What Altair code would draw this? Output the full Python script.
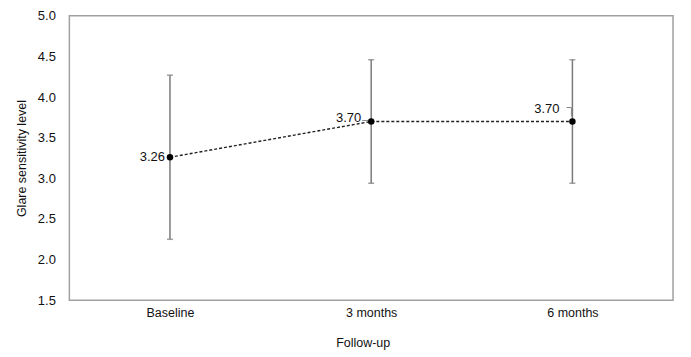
import altair as alt
import pandas as pd

categories = ["Baseline", "3 months", "6 months"]
means = [3.26, 3.70, 3.70]
lower = [2.25, 2.94, 2.94]
upper = [4.27, 4.46, 4.46]
value_labels = ["3.26", "3.70", "3.70"]

df = pd.DataFrame({"cat": categories, "mean": means, "lo": lower, "hi": upper, "lab": value_labels})

FONT = "Liberation Sans"
x_enc = alt.X("cat:N", sort=categories,
              scale=alt.Scale(type="point", padding=0.5),
              axis=alt.Axis(title="Follow-up", labelAngle=0, labelFontSize=12.5, labelColor="#111111",
                            labelPadding=6, ticks=False, tickSize=0, domain=False, grid=False,
                            titleFontSize=12.5, titleFontWeight="normal", titleColor="#111111",
                            titleX=294, titleY=42, titleBaseline="middle", titleAnchor="middle"))
y_scale = alt.Scale(domain=[1.5, 5.0], nice=False, zero=False)
y_enc = alt.Y("mean:Q", scale=y_scale,
              axis=alt.Axis(title="Glare sensitivity level", values=[1.5, 2.0, 2.5, 3.0, 3.5, 4.0, 4.5, 5.0],
                            format=".1f", labelFontSize=13, labelColor="#111111", labelPadding=14,
                            ticks=False, tickSize=0, domain=False, grid=False,
                            titleFontSize=12.5, titleFontWeight="normal", titleColor="#111111",
                            titleX=-48, titleY=142.5, titleAngle=270, titleBaseline="middle",
                            titleAlign="center"))

base = alt.Chart(df)

bars = base.mark_rule(color="#7a7a7a", strokeWidth=1.5).encode(
    x=x_enc, y=alt.Y("lo:Q", scale=y_scale), y2="hi:Q")
cap_lo = base.mark_tick(color="#7a7a7a", size=6, thickness=1.5).encode(
    x=alt.X("cat:N", sort=categories), y=alt.Y("lo:Q", scale=y_scale))
cap_hi = base.mark_tick(color="#7a7a7a", size=6, thickness=1.5).encode(
    x=alt.X("cat:N", sort=categories), y=alt.Y("hi:Q", scale=y_scale))
line = base.mark_line(color="#222222", strokeDash=[3, 2], strokeWidth=1.4).encode(x=x_enc, y=y_enc)
pts = base.mark_point(filled=True, color="black", size=42, opacity=1).encode(x=x_enc, y=y_enc)

def lbl(cat, dx, dy):
    return base.transform_filter(alt.datum.cat == cat).mark_text(
        align="right", baseline="middle", dx=dx, dy=dy, fontSize=13, font=FONT, color="#111111"
    ).encode(x=alt.X("cat:N", sort=categories), y=alt.Y("mean:Q", scale=y_scale), text="lab:N")

t1 = lbl("Baseline", -5, 0)
t2 = lbl("3 months", -10, -3)
t3 = lbl("6 months", -13, -13)

lead2 = base.transform_filter(alt.datum.cat == "3 months").mark_rule(
    color="#888888", strokeWidth=1, xOffset=-9, x2Offset=-3, yOffset=-1, y2Offset=-1
).encode(x=alt.X("cat:N", sort=categories), x2="cat:N", y=alt.Y("mean:Q", scale=y_scale), y2="mean:Q")
lead3h = base.transform_filter(alt.datum.cat == "6 months").mark_rule(
    color="#888888", strokeWidth=1, xOffset=-6, x2Offset=-1, yOffset=-14, y2Offset=-14
).encode(x=alt.X("cat:N", sort=categories), x2="cat:N", y=alt.Y("mean:Q", scale=y_scale), y2="mean:Q")
lead3v = base.transform_filter(alt.datum.cat == "6 months").mark_rule(
    color="#888888", strokeWidth=1, xOffset=-1, yOffset=-14, y2Offset=-5
).encode(x=alt.X("cat:N", sort=categories), y=alt.Y("mean:Q", scale=y_scale), y2="mean:Q")

chart = alt.layer(bars, cap_lo, cap_hi, line, pts, t1, t2, t3, lead2, lead3h, lead3v).properties(
    width=605, height=285,
    autosize=alt.AutoSizeParams(type="none"),
    padding={"left": 61.5, "top": 7.5, "right": 10, "bottom": 50},
    background="white",
).configure_view(stroke="#a0a0a0", strokeWidth=1.5).configure_axis(
    labelFont=FONT, titleFont=FONT)

chart.save("out.html", embed_options={"renderer": "svg", "actions": False})
